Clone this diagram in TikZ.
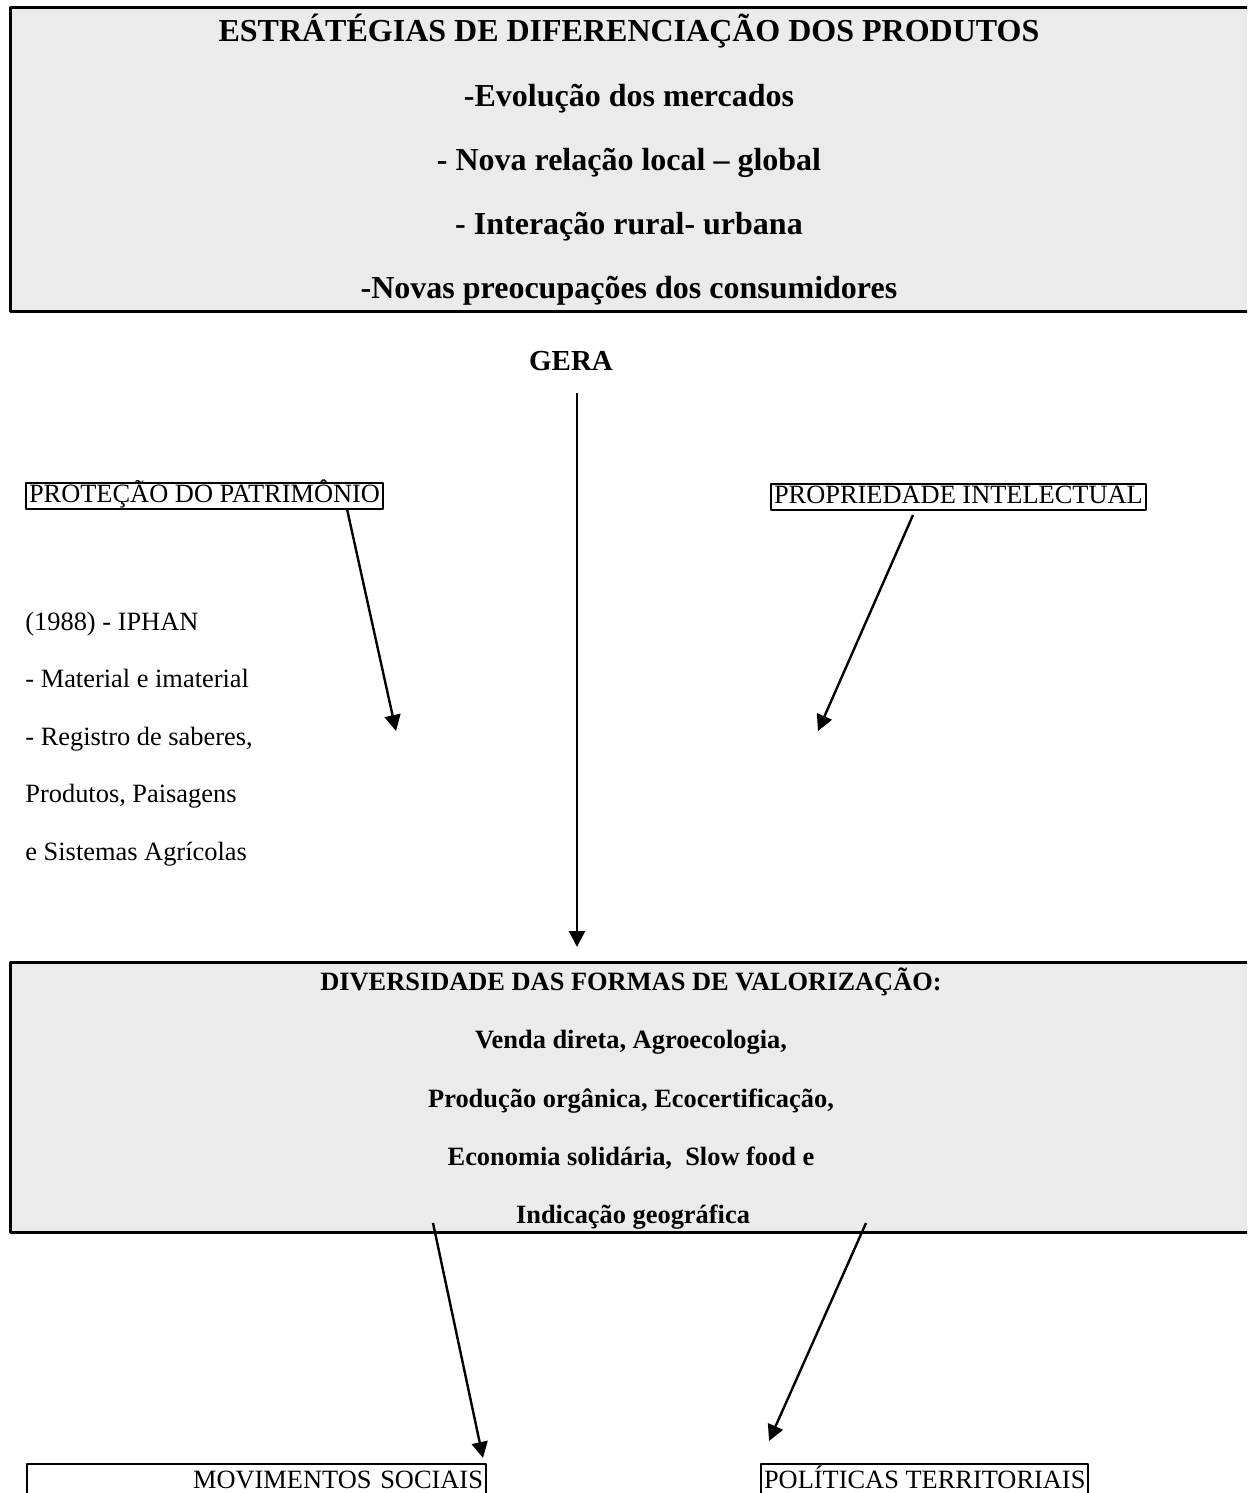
\documentclass[tikz,border=0pt]{standalone}
\usepackage{fontspec}
\setmainfont{Liberation Serif}
\usetikzlibrary{arrows.meta}
\definecolor{boxgray}{HTML}{EBEBEB}
\tikzset{
  big/.style={font=\fontsize{16}{19}\selectfont\bfseries},
  mid/.style={font=\fontsize{13.2}{16}\selectfont\bfseries},
  plain/.style={font=\fontsize{13.2}{16}\selectfont,inner sep=0pt},
  tag/.style={plain,draw,line width=1pt,inner xsep=1.5pt,inner ysep=0pt,text height=9.5pt,text depth=3.5pt},
  foot/.style={plain,draw,line width=1pt,inner xsep=1.5pt,inner ysep=0pt,text height=12pt,text depth=20pt},
  arr/.style={line width=1.2pt,-{Triangle[length=8pt,width=8pt]}}
}
\begin{document}
\begin{tikzpicture}[x=0.5pt,y=-0.5pt,line join=round]
    \clip (0,0) rectangle (1247,1493);
    \fill[white] (0,0) rectangle (1247,1493);

    % top box
    \draw[line width=1.5pt,fill=boxgray] (10,8) rectangle (1262,311);
    \node[big,anchor=base] (tit) at (629,42) {ESTRÁTÉGIAS DE DIFERENCIAÇÃO DOS PRODUTOS};
    \node[big,anchor=base] (evol) at (629,106) {-Evolução dos mercados};
    \node[big,anchor=base] (nova) at (629,170) {- Nova relação local – global};
    \node[big,anchor=base] (inter) at (629,234) {- Interação rural- urbana};
    \node[big,anchor=base] (preoc) at (629,298) {-Novas preocupações dos consumidores};

    \node[big,font=\fontsize{14.5}{17}\selectfont\bfseries,anchor=base] (gera) at (571,370) {GERA};

    % side boxes
    \node[tag,anchor=base west] (prot) at (25,502) {PROTEÇÃO DO PATRIMÔNIO};
    \node[tag,anchor=base west] (prop) at (770,503) {PROPRIEDADE INTELECTUAL};

    \node[plain,anchor=base west] (iphan) at (25,630) {(1988) - IPHAN};
    \node[plain,anchor=base west] (mat) at (25,687) {- Material e imaterial};
    \node[plain,anchor=base west] (reg) at (25,745) {- Registro de saberes,};
    \node[plain,anchor=base west] (prod) at (25,802) {Produtos, Paisagens};
    \node[plain,anchor=base west] (sist) at (25,860) {e Sistemas Agrícolas};

    % middle box
    \draw[line width=1.5pt,fill=boxgray] (10,962) rectangle (1262,1232);
    \node[mid,anchor=base] (div) at (631,990) {DIVERSIDADE DAS FORMAS DE VALORIZAÇÃO:};
    \node[mid,anchor=base] (venda) at (631,1048) {Venda direta, Agroecologia,};
    \node[mid,anchor=base] (organ) at (631,1107) {Produção orgânica, Ecocertificação,};
    \node[mid,anchor=base] (econ) at (631,1165) {Economia solidária, \ Slow food e};
    \node[mid,anchor=base] (indic) at (633,1223) {Indicação geográfica};

    % bottom boxes
    \node[foot,anchor=base west,text width=226.5pt,align=right] (mov) at (26,1488) {MOVIMENTOS SOCIAIS};
    \node[foot,anchor=base west] (pol) at (760,1488) {POLÍTICAS TERRITORIAIS};

    % arrows
    \coordinate (g0) at (577,393);  \coordinate (g1) at (577,947);
    \coordinate (p0) at (347,509);  \coordinate (p1) at (396,731);
    \coordinate (q0) at (913,515);  \coordinate (q1) at (818,731);
    \coordinate (m0) at (433,1223); \coordinate (m1) at (483,1458);
    \coordinate (t0) at (866,1223); \coordinate (t1) at (769,1441);
    \draw[arr] (g0) -- (g1);
    \draw[arr] (p0) -- (p1);
    \draw[arr] (q0) -- (q1);
    \draw[arr] (m0) -- (m1);
    \draw[arr] (t0) -- (t1);
\end{tikzpicture}
\end{document}
